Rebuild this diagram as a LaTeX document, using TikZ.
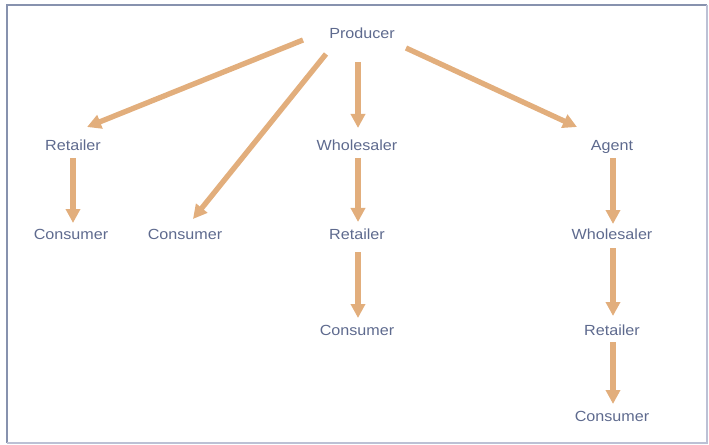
\documentclass[tikz,border=0pt]{standalone}
\usepackage{fontspec}
\setmainfont{Liberation Sans}[FakeStretch=1.1]
\usetikzlibrary{arrows.meta}
\definecolor{labelblue}{HTML}{5E6A8E}
\definecolor{flow}{HTML}{E2AE7C}
\definecolor{frameA}{HTML}{8792AE}
\definecolor{frameB}{HTML}{BCC1D5}
\tikzset{
  lbl/.style={inner sep=0pt, text height=8.25pt, text depth=0pt,
    text=labelblue, font=\fontsize{11}{13}\selectfont},
  arr/.style={draw=flow, line width=4pt,
    -{Triangle[length=10.5pt,width=10.5pt]}},
}
\begin{document}
\begin{tikzpicture}[x=0.75pt,y=-0.75pt]
\useasboundingbox (0,0) rectangle (709,445);
% frame
\draw[frameA, line width=1.5pt] (7,443) -- (7,5) -- (707,5);
\draw[frameB, line width=1.1pt] (707,5) -- (707,443) -- (7,443);

% labels
\node[lbl] (prod) at (362,33) {Producer};
\node[lbl] (ret1) at (73,145) {Retailer};
\node[lbl] (con1) at (71,234) {Consumer};
\node[lbl] (con2) at (185,234) {Consumer};
\node[lbl] (whl)  at (357,145) {Wholesaler};
\node[lbl] (ret2) at (357,234) {Retailer};
\node[lbl] (con3) at (357,330) {Consumer};
\node[lbl] (agt)  at (612,145) {Agent};
\node[lbl] (whl2) at (612,234) {Wholesaler};
\node[lbl] (ret3) at (612,330) {Retailer};
\node[lbl] (con4) at (612,416) {Consumer};

% channels
\draw[arr] ([shift={(-59,7)}]prod.center) -- ([shift={(14,-18)}]ret1.center);
\draw[arr] ([shift={(-36,21)}]prod.center) -- ([shift={(8,-15)}]con2.center);
\draw[arr] ([shift={(-4,29)}]prod.center) -- ([shift={(1,-17)}]whl.center);
\draw[arr] ([shift={(44,15)}]prod.center) -- ([shift={(-35,-18)}]agt.center);
\draw[arr] ([shift={(0,13)}]ret1.center) -- ([shift={(2,-11)}]con1.center);
\draw[arr] ([shift={(1,13)}]whl.center) -- ([shift={(1,-12)}]ret2.center);
\draw[arr] ([shift={(1,18)}]ret2.center) -- ([shift={(1,-12)}]con3.center);
\draw[arr] ([shift={(1,13)}]agt.center) -- ([shift={(1,-10)}]whl2.center);
\draw[arr] ([shift={(1,14)}]whl2.center) -- ([shift={(1,-14)}]ret3.center);
\draw[arr] ([shift={(1,12)}]ret3.center) -- ([shift={(1,-12)}]con4.center);
\end{tikzpicture}
\end{document}
